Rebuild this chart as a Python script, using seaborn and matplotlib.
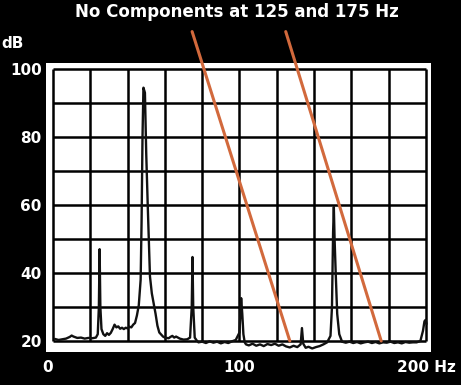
import matplotlib
matplotlib.use('Agg')
import matplotlib.pyplot as plt
import seaborn as sns
import pandas as pd

sns.set_style("white")
plt.rcParams['font.family'] = ['DejaVu Sans']

# spectrum trace: frequency (Hz) and level (dB), rows of 10
freq = [1, 3, 5, 7, 9, 10, 11, 13, 15, 17,
        19, 21, 23, 24, 24.6, 25.0, 25.4, 26, 27, 28,
        29, 30, 31, 32, 33, 34, 35, 36, 37, 38,
        39, 40, 41, 42, 43, 44, 45, 46, 47, 47.5,
        48.0, 48.5, 49.3, 50.0, 50.8, 51.5, 52, 53, 54, 55,
        56, 57, 58, 59, 60, 62, 63, 64, 65, 66,
        67, 68, 70, 72, 73.5, 74.4, 74.8, 75.2, 76, 77,
        78, 80, 82, 84, 86, 88, 90, 92, 94, 96,
        98, 100.0, 100.9, 101.5, 102.1, 102.8, 103.5, 105, 107, 109,
        111, 113, 115, 117, 119, 121, 123, 125, 127, 129,
        131, 132.8, 133.5, 134.2, 135.5, 137, 139, 141, 143, 145,
        147, 148.8, 149.6, 150.2, 150.6, 151.0, 151.6, 152.4, 153.5, 155,
        157, 159, 161, 163, 165, 167, 169, 171, 173, 175,
        177, 179, 181, 183, 185, 187, 189, 191, 193, 195,
        197, 198.4, 199.2, 199.8, 200.3]
level = [20.6, 20.3, 20.5, 20.7, 21.2, 21.6, 21.3, 20.9, 21.0, 20.7,
         20.9, 20.8, 21.0, 22.0, 30.0, 47.0, 30.0, 23.5, 22.0, 21.5,
         22.3, 21.8, 22.4, 23.5, 24.8, 24.0, 24.3, 23.6, 23.9, 23.5,
         23.9, 23.7, 24.2, 24.0, 24.8, 25.3, 27.5, 30.5, 38.0, 55.0,
         80.0, 94.5, 93.0, 75.0, 60.0, 48.0, 39.0, 34.0, 31.0, 28.0,
         24.5, 22.5, 21.9, 21.3, 21.0, 20.8, 21.2, 21.5, 21.0, 21.3,
         21.0, 20.7, 20.4, 20.5, 21.0, 30.0, 44.7, 30.0, 21.0, 20.2,
         19.6, 19.8, 19.4, 19.9, 19.5, 19.8, 19.3, 19.7, 19.4, 19.9,
         20.3, 22.5, 32.6, 28.0, 22.0, 19.6, 19.0, 18.7, 19.2, 18.6,
         19.0, 18.5, 19.1, 18.8, 19.2, 18.6, 19.0, 18.4, 18.1, 18.6,
         18.2, 19.0, 23.8, 19.2, 18.0, 18.3, 17.8, 18.2, 18.5, 19.0,
         19.6, 21.5, 30.0, 52.0, 59.4, 50.0, 40.0, 28.0, 22.0, 19.8,
         19.5, 19.8, 19.4, 19.7, 19.3, 19.6, 19.8, 19.4, 19.7, 19.3,
         19.6, 19.5, 19.8, 19.4, 19.6, 19.3, 19.7, 19.5, 19.6, 19.6,
         20.0, 23.0, 25.8, 26.2, 25.0]

# orange "no component" markers, ending at 125 and 175 Hz on the floor
marker_names = ['125 Hz', '175 Hz']
marker_top_hz = [74.6, 124.8]
marker_bottom_hz = [127.0, 176.0]
marker_db = [111.0, 20.0]

x_ticks = [0, 100, 200]
x_tick_labels = ['0', '100', '200 Hz']
y_ticks = [20, 40, 60, 80, 100]

W, H = 461, 385
fig = plt.figure(figsize=(W / 100, H / 100), dpi=100, facecolor='black')
ax = fig.add_axes([46 / W, 1 - 352 / H, 385 / W, 289 / H])
ax.set_facecolor('white')

# chart grid, confined to the 0-200 Hz / 20-100 dB box
ax.vlines(range(0, 201, 20), 20, 100, color='black', lw=1.8, zorder=1)
ax.hlines(range(20, 101, 10), 0, 200, color='black', lw=1.8, zorder=1)

trace = pd.DataFrame({'freq': freq, 'level': level})
sns.lineplot(data=trace, x='freq', y='level', ax=ax, color='#111111', lw=1.7,
             sort=False, zorder=3)

for name, top, bottom in zip(marker_names, marker_top_hz, marker_bottom_hz):
    seg = pd.DataFrame({'freq': [top, bottom], 'level': marker_db})
    sns.lineplot(data=seg, x='freq', y='level', ax=ax, color='#d2693c', lw=2.2,
                 sort=False, zorder=4, clip_on=False)

ax.set_xlim(-3.75, 202.7)
ax.set_ylim(16.76, 101.76)
for s in ax.spines.values():
    s.set_visible(False)

ax.set_xticks(x_ticks, x_tick_labels)
ax.set_yticks(y_ticks)
ax.tick_params(axis='both', length=0, colors='white', labelsize=11)
ax.tick_params(axis='x', pad=6)
ax.tick_params(axis='y', pad=3)
for lbl in ax.get_xticklabels() + ax.get_yticklabels():
    lbl.set_fontweight('bold')
ax.get_xticklabels()[0].set_horizontalalignment('right')
ax.set_xlabel('')
ax.set_ylabel('')

fig.text(237 / W, 1 - 12 / H, 'No Components at 125 and 175 Hz', color='white',
         fontsize=12, fontweight='bold', ha='center', va='center')
fig.text(13 / W, 1 - 44 / H, 'dB', color='white', fontsize=11,
         fontweight='bold', ha='center', va='center')

fig.savefig('out.png', dpi=100, facecolor='black')
